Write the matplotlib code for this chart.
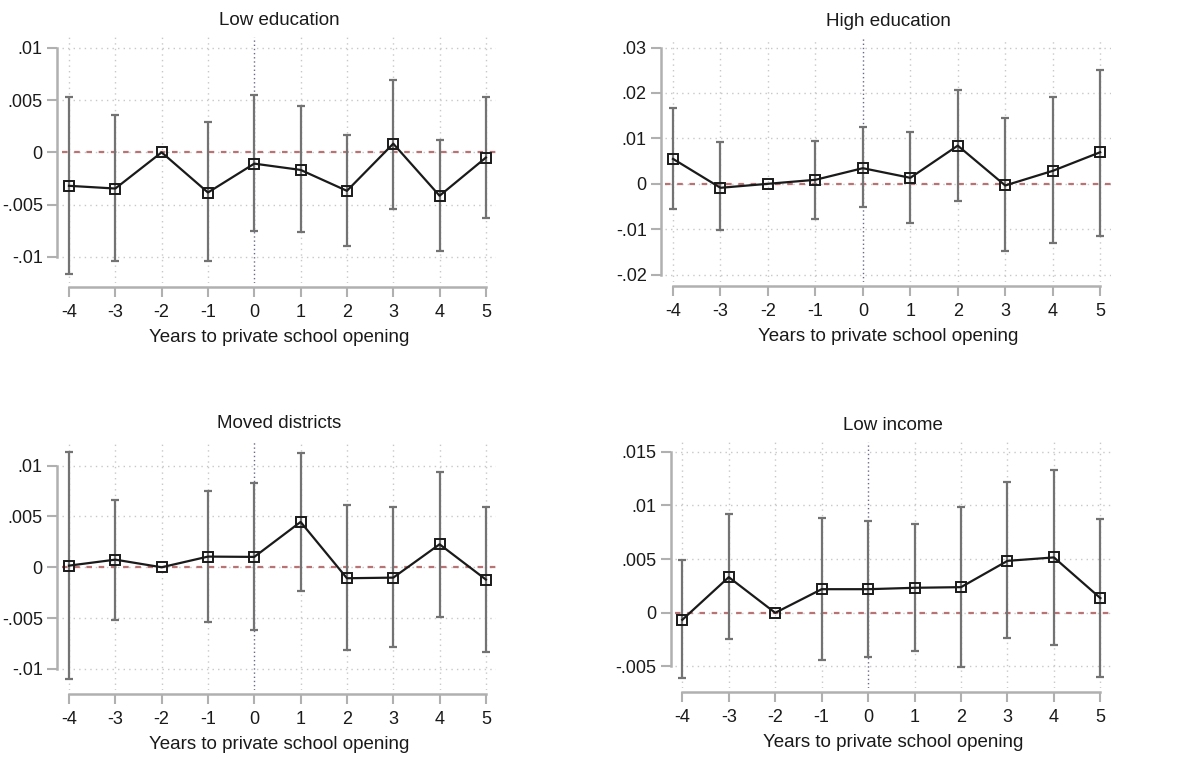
"""
Event-study coefficients by subgroup: years to private school opening.
"""
import numpy as np
import matplotlib.pyplot as plt

plt.rcParams['font.family'] = ['Liberation Sans', 'DejaVu Sans']

years = [-4, -3, -2, -1, 0, 1, 2, 3, 4, 5]

# Low education
low_edu_coef = [-0.0032, -0.00346, 0.0, -0.00384, -0.00108, -0.00168, -0.00368, 0.00083, -0.00415, -0.0005]
low_edu_hi = [0.00527, 0.00359, 0.0, 0.00286, 0.00549, 0.00444, 0.00162, 0.00695, 0.0012, 0.00527]
low_edu_lo = [-0.01165, -0.01035, 0.0, -0.01035, -0.00755, -0.00765, -0.00895, -0.0054, -0.0094, -0.00629]

# High education
high_edu_coef = [0.00549, -0.00088, 0.0, 0.00088, 0.00344, 0.00132, 0.00841, -0.00037, 0.00285, 0.00695]
high_edu_hi = [0.0166, 0.0091, 0.0, 0.0094, 0.0124, 0.0115, 0.0206, 0.0144, 0.0191, 0.0251]
high_edu_lo = [-0.0055, -0.0102, 0.0, -0.0077, -0.0052, -0.0086, -0.0038, -0.0148, -0.0130, -0.0114]

# Moved districts
moved_coef = [0.00016, 0.00075, 0.0, 0.00105, 0.00102, 0.00446, -0.00108, -0.00102, 0.00226, -0.00121]
moved_hi = [0.01134, 0.00662, 0.0, 0.00751, 0.0083, 0.0112, 0.0061, 0.00593, 0.0094, 0.0059]
moved_lo = [-0.0110, -0.00515, 0.0, -0.00534, -0.0062, -0.00233, -0.0081, -0.0078, -0.0049, -0.0083]

# Low income
low_inc_coef = [-0.00065, 0.00332, 0.0, 0.0022, 0.0022, 0.00233, 0.00239, 0.00484, 0.00516, 0.00137]
low_inc_hi = [0.00494, 0.0092, 0.0, 0.00885, 0.00857, 0.00826, 0.0099, 0.01214, 0.01335, 0.00873]
low_inc_lo = [-0.0061, -0.00248, 0.0, -0.00438, -0.00413, -0.00354, -0.00503, -0.00239, -0.00304, -0.00596]

panels = [
    ('Low education', low_edu_coef, low_edu_lo, low_edu_hi,
     [-0.01, -0.005, 0, 0.005, 0.01], ['-.01', '-.005', '0', '.005', '.01'],
     (-0.0125, 0.011), [0.052, 0.628, 0.367, 0.323]),
    ('High education', high_edu_coef, high_edu_lo, high_edu_hi,
     [-0.02, -0.01, 0, 0.01, 0.02, 0.03], ['-.02', '-.01', '0', '.01', '.02', '.03'],
     (-0.0217, 0.0321), [0.562, 0.629, 0.376, 0.321]),
    ('Moved districts', moved_coef, moved_lo, moved_hi,
     [-0.01, -0.005, 0, 0.005, 0.01], ['-.01', '-.005', '0', '.005', '.01'],
     (-0.0121, 0.0125), [0.052, 0.093, 0.367, 0.3285]),
    ('Low income', low_inc_coef, low_inc_lo, low_inc_hi,
     [-0.005, 0, 0.005, 0.01, 0.015], ['-.005', '0', '.005', '.01', '.015'],
     (-0.007, 0.0159), [0.570, 0.096, 0.368, 0.323]),
]

fig = plt.figure(figsize=(11.84, 7.61), dpi=100)

for title, coef, lo, hi, yt, ytl, ylim, pos in panels:
    ax = fig.add_axes(pos)
    coef = np.array(coef)
    lo = np.array(lo)
    hi = np.array(hi)
    x = np.array(years)
    ci = x != -2  # reference year has no interval

    ax.set_xlim(-4.16, 5.22)
    ax.set_ylim(*ylim)

    # dotted grid at the ticks
    for t in yt:
        ax.axhline(t, color='#c8c8c8', lw=1.0, ls=(0, (1, 3)), zorder=0)
    for t in years:
        if t != 0:
            ax.axvline(t, color='#c8c8c8', lw=1.0, ls=(0, (1, 3)), zorder=0)
    ax.axvline(0, color='#6a6a8a', lw=1.0, ls=(0, (1, 2)), zorder=1)
    ax.axhline(0, color='#b87474', lw=1.6, ls=(0, (2.5, 3)), zorder=1)

    ax.errorbar(x[ci], coef[ci], yerr=[coef[ci] - lo[ci], hi[ci] - coef[ci]],
                fmt='none', ecolor='#737373', elinewidth=1.6, capsize=2.8,
                capthick=1.6, zorder=2)
    ax.plot(x, coef, color='#1a1a1a', lw=1.6, zorder=3)
    ax.plot(x, coef, ls='none', marker='s', ms=6.5, mfc='none',
            mec='#1a1a1a', mew=1.4, zorder=4)

    ax.set_title(title, fontsize=13.5, color='#1a1a1a', pad=9)
    ax.set_xticks(years)
    ax.set_xticklabels([str(v) for v in years])
    ax.set_yticks(yt)
    ax.set_yticklabels(ytl)
    ax.set_xlabel('Years to private school opening', fontsize=13.5, color='#1a1a1a', labelpad=6)

    for side in ['top', 'right']:
        ax.spines[side].set_visible(False)
    for side in ['left', 'bottom']:
        ax.spines[side].set_color('#b0b0b0')
        ax.spines[side].set_linewidth(1.8)
        ax.spines[side].set_position(('outward', 3))
    ax.spines['left'].set_bounds(yt[0], yt[-1])
    ax.spines['bottom'].set_bounds(-4, 5)
    ax.tick_params(axis='both', colors='#b0b0b0', width=1.5, length=7,
                   labelcolor='#1a1a1a', labelsize=13)
    ax.tick_params(axis='x', pad=5)
    ax.patch.set_alpha(0)

fig.savefig('out.png', dpi=100)
